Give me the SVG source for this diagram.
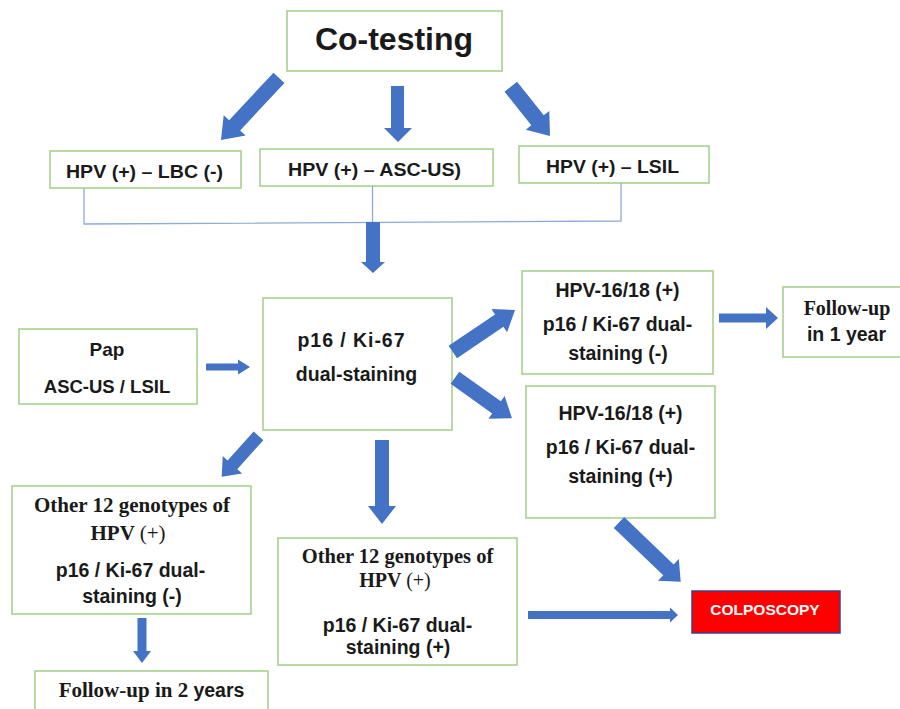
<svg xmlns="http://www.w3.org/2000/svg" width="900" height="709" viewBox="0 0 900 709">
<style>
.box{fill:#fff;stroke:#a9d18e;stroke-width:1.6}
.arr{fill:#4472c4}
.br{fill:none;stroke:#8eaadb;stroke-width:1.3}
.s{font-family:"Liberation Sans",Arial,sans-serif;font-weight:bold;fill:#1a1a1a;text-anchor:middle}
.r{font-family:"Liberation Serif","Times New Roman",serif;font-weight:bold;fill:#1a1a1a;text-anchor:middle}
</style>
<rect width="900" height="709" fill="#fff"/>
<g id="cotesting"><rect class="box" x="287" y="11" width="215" height="60"/><text class="s" x="394" y="50" font-size="32">Co-testing</text></g>
<g id="lbc"><rect class="box" x="50" y="151" width="191" height="37"/><text class="s" x="144.5" y="178" font-size="18" textLength="157" lengthAdjust="spacingAndGlyphs">HPV (+) – LBC (-)</text></g>
<g id="ascus"><rect class="box" x="260" y="149" width="233" height="37"/><text class="s" x="374.5" y="176" font-size="18" textLength="173" lengthAdjust="spacingAndGlyphs">HPV (+) – ASC-US)</text></g>
<g id="lsil"><rect class="box" x="519" y="146" width="190" height="37"/><text class="s" x="612.5" y="173" font-size="18" textLength="133" lengthAdjust="spacingAndGlyphs">HPV (+) – LSIL</text></g>
<g id="pap"><rect class="box" x="19" y="329" width="178" height="75"/><text class="s" x="107" y="356" font-size="19">Pap</text><text class="s" x="107" y="393" font-size="18.5">ASC-US / LSIL</text></g>
<g id="p16"><rect class="box" x="263" y="298" width="189" height="132"/><text class="s" x="351" y="346.5" font-size="19.5" textLength="107" lengthAdjust="spacing">p16 / Ki-67</text><text class="s" x="356.5" y="381" font-size="19.5">dual-staining</text></g>
<g id="hpv1618neg"><rect class="box" x="522" y="271" width="191" height="103"/><text class="s" x="617.5" y="296.5" font-size="19.5">HPV-16/18 (+)</text><text class="s" x="617.5" y="331" font-size="19.5">p16 / Ki-67 dual-</text><text class="s" x="618" y="360" font-size="19.5">staining (-)</text></g>
<g id="fu1"><rect class="box" x="783" y="287" width="118" height="70"/><text class="r" x="847" y="315" font-size="20">Follow-up</text><text class="s" x="846.5" y="340.5" font-size="19.5">in 1 year</text></g>
<g id="hpv1618pos"><rect class="box" x="526" y="386" width="189" height="132"/><text class="s" x="620.5" y="420" font-size="19.5">HPV-16/18 (+)</text><text class="s" x="620.5" y="454" font-size="19.5">p16 / Ki-67 dual-</text><text class="s" x="620.5" y="483" font-size="19.5">staining (+)</text></g>
<g id="otherneg"><rect class="box" x="12" y="486" width="239" height="128"/><text class="r" x="132" y="511.5" font-size="21">Other 12 genotypes of</text><text class="r" x="128" y="540" font-size="21">HPV <tspan font-weight="normal">(+)</tspan></text><text class="s" x="130.5" y="576.5" font-size="19.5">p16 / Ki-67 dual-</text><text class="s" x="132" y="603" font-size="19.5">staining (-)</text></g>
<g id="fu2"><rect class="box" x="35" y="671" width="233" height="44"/><text class="r" x="151.5" y="696.5" font-size="21">Follow-up in 2 <tspan font-family="Liberation Sans,Arial,sans-serif" font-size="19.5">years</tspan></text></g>
<g id="otherpos"><rect class="box" x="278" y="538" width="239" height="127"/><text class="r" x="397.5" y="563" font-size="20.5">Other 12 genotypes of</text><text class="r" x="395" y="587" font-size="20">HPV <tspan font-weight="normal">(+)</tspan></text><text class="s" x="397.5" y="632" font-size="19.5">p16 / Ki-67 dual-</text><text class="s" x="398" y="654" font-size="19.5">staining (+)</text></g>
<g id="colposcopy"><rect x="692" y="591" width="148" height="42" fill="#ff0000" stroke="#3b3f8a" stroke-width="1.5"/><text x="765" y="615" font-size="15.5" font-family="Liberation Sans,Arial,sans-serif" font-weight="bold" fill="#fff" text-anchor="middle">COLPOSCOPY</text></g>
<g id="connectors">
<polyline class="br" points="84,188 84,224 621,221 621,183"/>
<line class="br" x1="372.5" y1="186" x2="372.5" y2="222.5"/>
<polygon class="arr" transform="translate(221,140) rotate(133)" points="-85,-7.5 -20,-7.5 -20,-15 0,0 -20,15 -20,7.5 -85,7.5"/>
<polygon class="arr" points="391,86 404,86 404,128 412,128 398,142 384,128 391,128"/>
<polygon class="arr" transform="translate(550,136) rotate(51.5)" points="-63,-8 -20,-8 -20,-15 0,0 -20,15 -20,8 -63,8"/>
<polygon class="arr" points="366,222 380,222 380,262 385,262 373,273 361,262 366,262"/>
<polygon class="arr" points="206,363.5 238,363.5 238,359.5 250,367 238,374.5 238,370.5 206,370.5"/>
<polygon class="arr" transform="translate(221.7,476.7) rotate(132)" points="-55,-6.5 -16,-6.5 -16,-13 0,0 -16,13 -16,6.5 -55,6.5"/>
<polygon class="arr" points="375,440 389,440 389,506 396,506 382,524 368,506 375,506"/>
<polygon class="arr" transform="translate(515,310) rotate(-34)" points="-75,-7.5 -19,-7.5 -19,-14 0,0 -19,14 -19,7.5 -75,7.5"/>
<polygon class="arr" transform="translate(512,418.3) rotate(35.4)" points="-70,-7.5 -19,-7.5 -19,-14 0,0 -19,14 -19,7.5 -70,7.5"/>
<polygon class="arr" points="719,313.5 766,313.5 766,307 778,318 766,329 766,322.5 719,322.5"/>
<polygon class="arr" points="137.5,618 146.5,618 146.5,651 151,651 142,663 133,651 137.5,651"/>
<polygon class="arr" transform="translate(680.7,581.7) rotate(43.8)" points="-85.5,-7.5 -17,-7.5 -17,-15 0,0 -17,15 -17,7.5 -85.5,7.5"/>
<polygon class="arr" points="528,611 670,611 670,607.5 678,615 670,622.5 670,619 528,619"/>
</g>
</svg>
